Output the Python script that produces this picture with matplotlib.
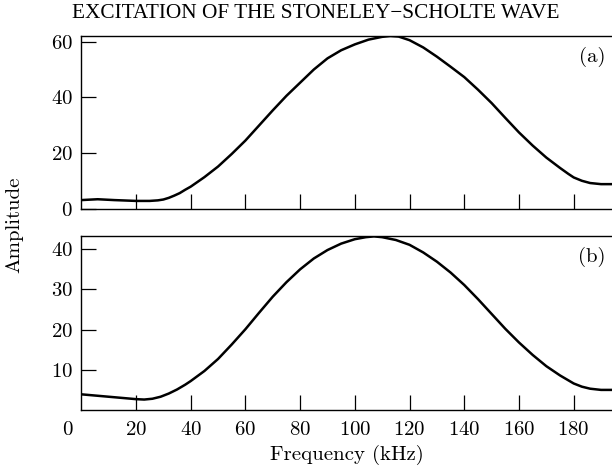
import matplotlib
matplotlib.use("Agg")
import matplotlib.pyplot as plt
import matplotlib.transforms as mtransforms

plt.rcParams['font.family'] = ['cmr10', 'DejaVu Serif']
plt.rcParams['axes.formatter.use_mathtext'] = True
plt.rcParams['axes.unicode_minus'] = False

# frequency (kHz) and amplitude of the two spectra
freq_a = [0, 6, 12, 20, 25, 28, 30, 32, 34, 36, 38, 40, 45, 50, 55, 60, 65, 70, 75, 80, 85,
          90, 95, 100, 105, 110, 113, 116, 120, 125, 130, 135, 140, 145, 150, 155, 160, 165,
          170, 175, 178, 180, 183, 186, 190, 194]
amp_a = [3.3, 3.6, 3.3, 3.0, 3.0, 3.2, 3.5, 4.1, 4.9, 5.8, 7.0, 8.1, 11.5, 15.3, 19.8, 24.6,
         30.0, 35.4, 40.6, 45.3, 50.0, 54.0, 56.9, 59.0, 60.7, 61.7, 62.0, 61.8, 60.5, 57.9,
         54.6, 51.0, 47.3, 42.8, 38.0, 32.7, 27.5, 22.8, 18.5, 14.8, 12.7, 11.4, 10.2, 9.4, 9.0, 9.0]

freq_b = [0, 10, 20, 23, 26, 29, 32, 35, 38, 40, 45, 50, 55, 60, 65, 70, 75, 80, 85, 90, 95,
          100, 104, 107, 110, 115, 120, 125, 130, 135, 140, 145, 150, 155, 160, 165, 170, 175,
          178, 180, 183, 186, 190, 194]
amp_b = [3.9, 3.3, 2.7, 2.6, 2.8, 3.3, 4.1, 5.1, 6.3, 7.2, 9.7, 12.7, 16.3, 20.1, 24.2, 28.2,
         31.8, 35.0, 37.7, 39.8, 41.4, 42.5, 43.0, 43.2, 43.0, 42.3, 41.1, 39.2, 36.9, 34.2,
         31.1, 27.6, 23.9, 20.2, 16.8, 13.7, 10.9, 8.6, 7.4, 6.6, 5.8, 5.3, 5.0, 5.0]

xticks = [20, 40, 60, 80, 100, 120, 140, 160, 180]
yticks_a = [0, 20, 40, 60]
yticks_b = [10, 20, 30, 40]

fig = plt.figure(figsize=(6.12, 4.73), dpi=100)
ax1 = fig.add_axes([0.1328, 0.5575, 0.8672, 0.3664])
ax2 = fig.add_axes([0.1328, 0.1332, 0.8672, 0.3679])

for ax in (ax1, ax2):
    ax.spines['right'].set_visible(False)
    for s in ('left', 'top', 'bottom'):
        ax.spines[s].set_linewidth(1.0)
    ax.set_xlim(0, 194)
    ax.set_xticks(xticks)
    ax.tick_params(axis='both', direction='in', length=10.5, width=0.9,
                   labelsize=15, top=False, right=False)
    ax.tick_params(axis='x', pad=8)
    ax.tick_params(axis='y', pad=6)

ax1.plot(freq_a, amp_a, color='black', lw=1.8, solid_joinstyle='round', solid_capstyle='round')
ax1.set_ylim(0, 62)
ax1.set_yticks(yticks_a)
ax1.tick_params(axis='x', labelbottom=False)
ax1.text(0.967, 0.88, '(a)', transform=fig.transFigure, ha='center', va='center', fontsize=15)

ax2.plot(freq_b, amp_b, color='black', lw=1.8, solid_joinstyle='round', solid_capstyle='round')
ax2.set_ylim(0, 43.3)
ax2.set_yticks(yticks_b)
ax2.set_xlabel('Frequency (kHz)', fontsize=15, labelpad=4)
ax2.text(0.967, 0.457, '(b)', transform=fig.transFigure, ha='center', va='center', fontsize=15)

# the origin label sits a little left of the axis
trans = mtransforms.blended_transform_factory(ax2.transData, ax2.transAxes)
ax2.text(-4.9, 0, '0', transform=trans + mtransforms.ScaledTranslation(0, -8 / 72, fig.dpi_scale_trans),
         ha='center', va='top', fontsize=15)

fig.text(0.023, 1 - 225 / 473, 'Amplitude', rotation=90, ha='center', va='center', fontsize=15)
fig.text(0.516, 1 - 14 / 473, 'EXCITATION OF THE STONELEY\u2212SCHOLTE WAVE',
         ha='center', va='center', fontsize=15.3, family='Liberation Serif')

fig.savefig('out.png', dpi=100)
